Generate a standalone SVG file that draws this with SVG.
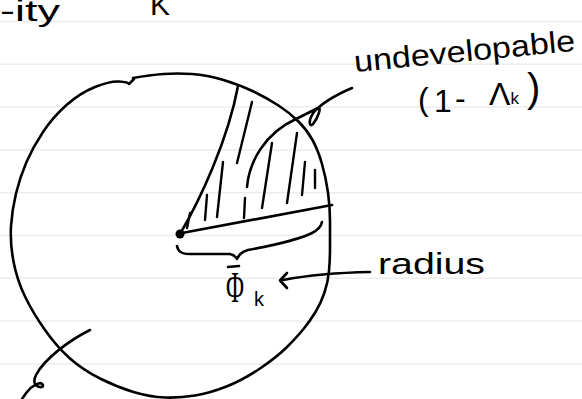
<svg xmlns="http://www.w3.org/2000/svg" width="582" height="399" viewBox="0 0 582 399">
<style>
.rule{stroke:#ececec;stroke-width:1.5}
.ink{fill:none;stroke:#000;stroke-width:2.6;stroke-linecap:round;stroke-linejoin:round}
.hatch{fill:none;stroke:#000;stroke-width:2.4;stroke-linecap:round}
.t{font-family:"Liberation Sans",Arial,sans-serif;fill:#000}
.s{font-family:"Liberation Serif","Times New Roman",serif;fill:#000}
</style>
<rect width="582" height="399" fill="#fff"/>
<g id="paper">
<line class="rule" x1="0" y1="21.5" x2="582" y2="21.5"/>
<line class="rule" x1="0" y1="64.3" x2="582" y2="64.3"/>
<line class="rule" x1="0" y1="107.1" x2="582" y2="107.1"/>
<line class="rule" x1="0" y1="149.9" x2="582" y2="149.9"/>
<line class="rule" x1="0" y1="192.7" x2="582" y2="192.7"/>
<line class="rule" x1="0" y1="235.5" x2="582" y2="235.5"/>
<line class="rule" x1="0" y1="278.3" x2="582" y2="278.3"/>
<line class="rule" x1="0" y1="321.1" x2="582" y2="321.1"/>
<line class="rule" x1="0" y1="363.9" x2="582" y2="363.9"/>
</g>
<g id="city">
<path class="ink" d="M133,78 Q150,75 163.5,74 Q177,73 192,74 Q207,75 223.5,80 Q240,85 253.5,91.5 Q267,98 278.5,105.5 Q290,113 298.5,121.5 Q307,130 312.5,140 Q318,150 322,164 Q326,178 328,192.5 Q330,207 330,221 Q330,235 330,247.5 Q330,260 329,271 Q328,282 324.5,292.5 Q321,303 315.5,312 Q310,321 303.5,329 Q297,337 287,347 Q277,357 260,368.5 Q243,380 226.5,386.5 Q210,393 195,395.5 Q180,398 165,397.5 Q150,397 133.5,392 Q117,387 100,378.5 Q83,370 70,358.5 Q57,347 45,330 Q33,313 25,296.5 Q17,280 13.5,261.5 Q10,243 11,226.5 Q12,210 16,193.5 Q20,177 26.5,162 Q33,147 43,132 Q53,117 66.5,105 Q80,93 95,87 Q110,81 119,81.5 Q128,82 129,84 L134,79"/>
</g>
<g id="sector">
<path class="ink" d="M180,234 C200,200 228,140 238,86"/>
<path class="ink" d="M182,233 L332,205"/>
<circle cx="180" cy="234" r="4.5" fill="#000"/>
<g id="hatching">
<path class="hatch" d="M190,213 L187,228"/>
<path class="hatch" d="M207,195 L205,220"/>
<path class="hatch" d="M223,162 L217,217"/>
<path class="hatch" d="M252,102 L237,163"/>
<path class="hatch" d="M245,198 L244,218"/>
<path class="hatch" d="M272,143 L262,208"/>
<path class="hatch" d="M297,133 L287,203"/>
<path class="hatch" d="M305,162 L302,195"/>
<path class="hatch" d="M315,170 L315,188"/>
</g>
<path id="brace" class="ink" d="M177,246 C178,252 182,254 190,254 L230,254 C234,255 236,257 237,259 C239,255 241,252 248,250 C270,246 298,240 312,233 C318,230 321,227 322,222"/>
</g>
<g id="connectors">
<path class="ink" d="M247,187 C249,162 265,133 296,119 C306,114 314,110 318,108 C322,106 318,118 313,124 C309,128 308,120 314,112 C322,103 338,94 352,88"/>
<path class="ink" d="M90,330 C70,340 45,358 36,375 C33,381 34,386 40,387 C44,388 44,384 40,383 C34,384 27,391 22,399"/>
<path class="ink" d="M283,280 Q320,273 370,272"/>
<path class="ink" d="M287,273 L280,280.5 L287,288"/>
</g>
<g id="labels">
<text class="t" x="0" y="21" font-size="29" textLength="60" lengthAdjust="spacingAndGlyphs">-ity</text>
<text class="t" x="150" y="15" font-size="30">K</text>
<text class="t" x="355" y="72" font-size="30" transform="rotate(-5.5 355 72)" textLength="222" lengthAdjust="spacingAndGlyphs">undevelopable</text>
<text class="t" font-size="32"><tspan x="418" y="110">(</tspan><tspan x="434" y="112">1</tspan><tspan x="455" y="109">-</tspan><tspan x="489" y="105">Λ</tspan><tspan font-size="17" y="104">k</tspan><tspan x="527" y="102" font-size="40">)</tspan></text>
<text class="t" x="378" y="274" font-size="30" textLength="107" lengthAdjust="spacingAndGlyphs">radius</text>
<line class="ink" x1="228" y1="267" x2="239" y2="266"/>
<text class="s" x="226" y="302" font-size="44" textLength="18" lengthAdjust="spacingAndGlyphs">Φ</text>
<text class="t" x="254" y="306" font-size="20">k</text>
</g>
</svg>
